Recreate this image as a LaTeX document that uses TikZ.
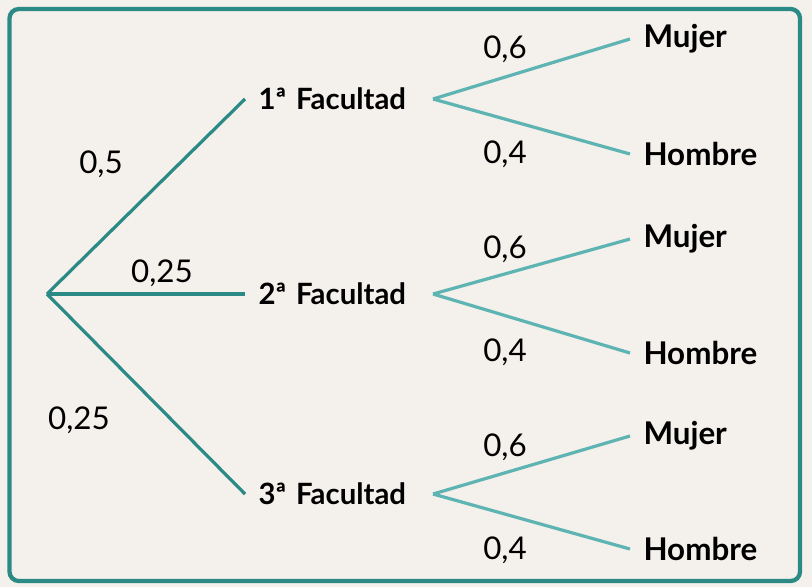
\documentclass[tikz,border=0pt]{standalone}
\usepackage{fontspec}
\setmainfont{Lato}
\usetikzlibrary{positioning}
\definecolor{fondo}{HTML}{F4F0EB}
\definecolor{tealA}{HTML}{2B8A86}
\definecolor{tealB}{HTML}{5EB4B3}

\begin{document}
\begin{tikzpicture}[x=0.75pt, y=-0.75pt, thick,
    fac/.style = {anchor=west, inner xsep=9.75pt, inner ysep=0pt, text width=120.75pt, align=left, font=\fontsize{22}{26}\selectfont\bfseries},
    sex/.style = {anchor=west, inner xsep=9.75pt, inner ysep=0pt, font=\fontsize{23.5}{28}\selectfont\bfseries},
    prob/.style = {font=\fontsize{23.5}{28}\selectfont},
    rama1/.style = {draw=tealA, line width=2.4pt},
    rama2/.style = {draw=tealB, line width=2.4pt}]
    \fill[fondo] (0,0) rectangle (812,587);
    \useasboundingbox (0,0) rectangle (812,587);
    \draw[tealA, line width=3.2pt, rounded corners=7pt] (9.5,9) rectangle (800,581);

    \coordinate (0) at (47,294);
    \node[fac] (f1) at (245,99) {1ª Facultad};
    \node[fac] (f2) at (245,294) {2ª Facultad};
    \node[fac] (f3) at (245,494) {3ª Facultad};
    \draw[rama1] (0)--(f1.west);
    \draw[rama1] (0)--(f2.west);
    \draw[rama1] (0)--(f3.west);
    \node[prob] (p1) at (101,164) {0,5};
    \node[prob] (p2) at (162,273) {0,25};
    \node[prob] (p3) at (79,420) {0,25};

    % segundo nivel
    \node[sex] (m1) at (630,39) {Mujer};
    \node[sex] (h1) at (630,154) {Hombre};
    \node[sex] (m2) at (630,239) {Mujer};
    \node[sex] (h2) at (630,353) {Hombre};
    \node[sex] (m3) at (630,436) {Mujer};
    \node[sex] (h3) at (630,549) {Hombre};
    \foreach \i in {1,2,3} {
        \draw[rama2] (f\i.east)--(m\i.west);
        \draw[rama2] (f\i.east)--(h\i.west);
    }
    \node[prob] (q1) at (505,49) {0,6};
    \node[prob] (r1) at (505,154) {0,4};
    \node[prob] (q2) at (505,249) {0,6};
    \node[prob] (r2) at (505,352) {0,4};
    \node[prob] (q3) at (505,447) {0,6};
    \node[prob] (r3) at (505,550) {0,4};
\end{tikzpicture}
\end{document}
